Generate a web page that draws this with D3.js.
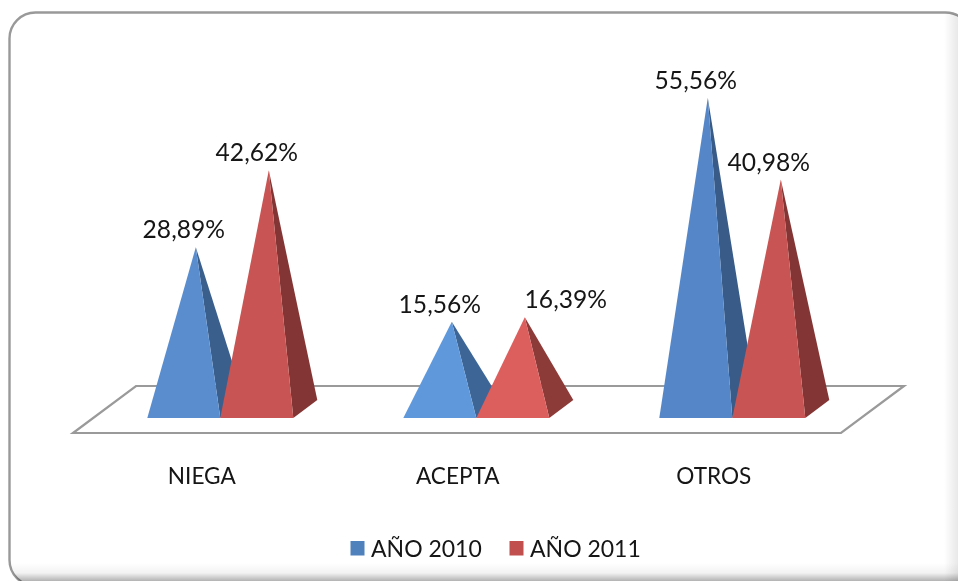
<!DOCTYPE html>
<html><head><meta charset="utf-8">
<script src="https://cdn.jsdelivr.net/npm/d3@7"></script>
<style>html,body{margin:0;padding:0;background:#fff}svg{display:block}text{font-family:Lato,"Open Sans",sans-serif;fill:#141414}</style>
</head><body>
<svg id="c" width="958" height="581"></svg>
<script>
const categories = ["NIEGA","ACEPTA","OTROS"];
const seriesNames = ["AÑO 2010","AÑO 2011"];
const values2010 = [28.89,15.56,55.56];
const values2011 = [42.62,16.39,40.98];
const labels2010 = ["28,89%","15,56%","55,56%"];
const labels2011 = ["42,62%","16,39%","40,98%"];

const W=958,H=581;
const svg=d3.select("#c");
const defs=svg.append("defs");
const frame={x:9.5,y:12.5,width:962,height:573.5,rx:26};
const setFrame=s=>s.attr("x",frame.x).attr("y",frame.y).attr("width",frame.width).attr("height",frame.height).attr("rx",frame.rx);
const grad=(id,a)=>{const g=defs.append("linearGradient").attr("id",id).attr("x1",a[0]).attr("y1",a[1]).attr("x2",a[2]).attr("y2",a[3]);return g;};
const sb=grad("shB",[0,0,0,1]);
sb.append("stop").attr("offset",0).attr("stop-color","#000").attr("stop-opacity",0);
sb.append("stop").attr("offset",.55).attr("stop-color","#000").attr("stop-opacity",.05);
sb.append("stop").attr("offset",1).attr("stop-color","#000").attr("stop-opacity",.3);
const sr=grad("shR",[0,0,1,0]);
sr.append("stop").attr("offset",0).attr("stop-color","#000").attr("stop-opacity",0);
sr.append("stop").attr("offset",1).attr("stop-color","#000").attr("stop-opacity",.09);
defs.append("filter").attr("id","soft").append("feGaussianBlur").attr("stdDeviation",0.5);
setFrame(defs.append("clipPath").attr("id","fr").append("rect"));

const root=svg.append("g").attr("filter","url(#soft)");
setFrame(root.append("rect")).attr("fill","#fff").attr("stroke","#999").attr("stroke-width",2.4);
const shade=root.append("g").attr("clip-path","url(#fr)");
shade.append("rect").attr("x",0).attr("y",563).attr("width",W).attr("height",18).attr("fill","url(#shB)");
shade.append("rect").attr("x",944).attr("y",0).attr("width",14).attr("height",H).attr("fill","url(#shR)");

// scales
const floorL=73,floorR=841,floorFront=433,floorDX=63,floorDY=47;
const barOffDX=19.3,barOffDY=15,depthDX=24,depthDY=18;
const x0=d3.scaleBand().domain(categories).range([floorL+barOffDX,floorR+barOffDX]);
const x1=d3.scaleBand().domain(seriesNames).range([-73,73]);
const base=floorFront-barOffDY;
const y=d3.scaleLinear().domain([0,60]).range([base-depthDY/2,base-depthDY/2-336]);
const catX=c=>x0(c)+x0.bandwidth()/2;

root.append("path").attr("fill","#fff").attr("stroke","#9a9a9a").attr("stroke-width",2.2)
 .attr("d",d3.line()([[floorL,floorFront],[floorR,floorFront],[floorR+floorDX,floorFront-floorDY],[floorL+floorDX,floorFront-floorDY]])+"Z");

const palette={
 "AÑO 2010":{front:d3.scaleLinear().domain([15,28,55]).range(["#5f98dc","#5a8dce","#5587c8"]),side:d3.scaleLinear().domain([15,28,55]).range(["#3d6698","#3a5f8c","#375b87"]),key:"#4f81bd"},
 "AÑO 2011":{front:d3.scaleLinear().domain([15,28,55]).range(["#de605e","#c85553","#c85553"]),side:d3.scaleLinear().domain([15,28,55]).range(["#8e3b39","#833634","#833634"]),key:"#c0504d"}
};
const labelShift=new Map([["ACEPTA|AÑO 2011",53]]);
const rows=categories.flatMap((c,i)=>[
 {c,s:seriesNames[0],v:values2010[i],t:labels2010[i]},
 {c,s:seriesNames[1],v:values2011[i],t:labels2011[i]}]);
const line=d3.line();
const geo=d=>{const l=catX(d.c)+x1(d.s),r=l+x1.bandwidth();return {l,r,ax:(l+r)/2+depthDX/2,ay:y(d.v)};};
const g=root.selectAll("g.p").data(rows).join("g").attr("class","p");
g.append("path").attr("fill",d=>palette[d.s].side(d.v)).attr("d",d=>{const p=geo(d);
 return line([[p.r,base],[p.r+depthDX,base-depthDY],[p.ax,p.ay]])+"Z";});
g.append("path").attr("fill",d=>palette[d.s].front(d.v)).attr("d",d=>{const p=geo(d);
 return line([[p.l,base],[p.r,base],[p.ax,p.ay]])+"Z";});
g.append("text").attr("text-anchor","middle").attr("font-size",24.6)
 .attr("x",d=>{const p=geo(d);return (p.l+p.r)/2+(labelShift.get(d.c+"|"+d.s)||0);})
 .attr("y",d=>y(d.v)-9).text(d=>d.t);

root.selectAll("text.cat").data(categories).join("text").attr("class","cat").attr("text-anchor","middle")
 .attr("font-size",22.6).attr("x",d=>catX(d)-18.5).attr("y",484).text(d=>d);

const leg=root.selectAll("g.l").data(seriesNames).join("g").attr("class","l")
 .attr("transform",(d,i)=>`translate(${350.5+i*159},541)`);
leg.append("rect").attr("width",14).attr("height",14.5).attr("fill",d=>palette[d].key);
leg.append("text").attr("x",20.5).attr("y",16).attr("font-size",23).text(d=>d);
</script></body></html>
